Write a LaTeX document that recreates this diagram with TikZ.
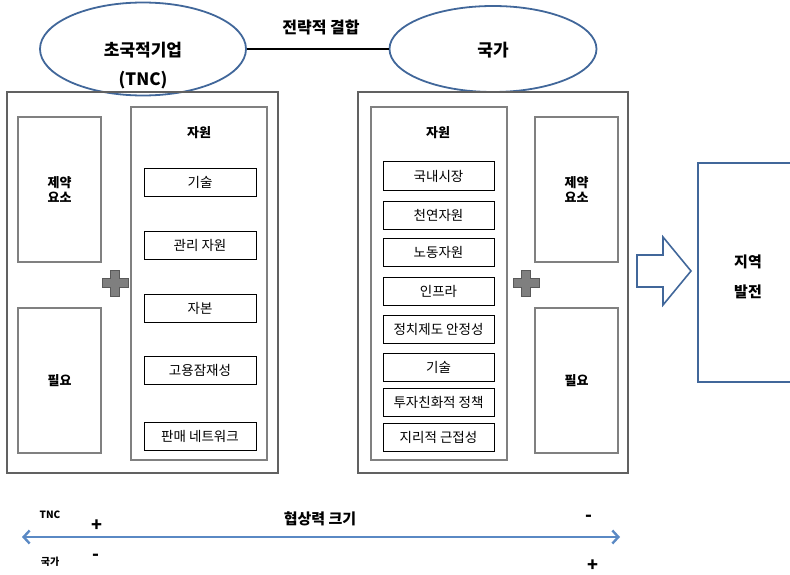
\documentclass[tikz,border=0pt]{standalone}
\usepackage{fontspec}
\setmainfont{Noto Sans CJK KR}
\usetikzlibrary{shapes.geometric,arrows.meta}
\definecolor{partyblue}{HTML}{41679A}
\definecolor{scaleblue}{HTML}{5A89C4}
\definecolor{plusgray}{HTML}{7F7F7F}

\begin{document}
\begin{tikzpicture}[x=1pt,y=-1pt,
  party/.style={ellipse,draw=partyblue,line width=1.8pt,inner sep=0pt},
  panel/.style={draw=black!62,line width=1.3pt,inner sep=0pt},
  frame/.style={draw=black!50,line width=1.1pt,inner sep=0pt},
  item/.style={draw=black,line width=1pt,inner sep=0pt,minimum height=28,
    font=\fontsize{13.5}{14}\selectfont},
  heading/.style={font=\bfseries\fontsize{13}{15.5}\selectfont,align=center},
  bigtitle/.style={font=\bfseries\fontsize{17}{19}\selectfont},
  note/.style={font=\bfseries\fontsize{10}{11}\selectfont},
  sign/.style={font=\bfseries\fontsize{18}{18}\selectfont},
  plusfill/.style={fill=plusgray,draw=black!65,line width=1pt}]

\useasboundingbox (0,0) rectangle (790,575);

% the two partners
\node[party,minimum width=206,minimum height=93] (tnc) at (143,49) {};
\node[party,minimum width=207,minimum height=86] (state) at (493,49) {};
\node[bigtitle] (tncname) at (143,50) {초국적기업};
\node[bigtitle] (tncabbr) at (143,80) {(TNC)};
\node[bigtitle] (statename) at (493,50) {국가};
\draw[line width=1.8pt] (tnc.east) -- (state.west);
\node[bigtitle,font=\bfseries\fontsize{16}{18}\selectfont] (link) at (321,27) {전략적 결합};

% TNC side
\node[panel,minimum width=271,minimum height=381] (tncbox) at (142.5,282.5) {};
\node[frame,minimum width=83,minimum height=145,heading] (tnclimit) at (59.5,189.5) {제약\\요소};
\node[frame,minimum width=83,minimum height=145,heading] (tncneed) at (59.5,380.5) {필요};
\node[frame,minimum width=136,minimum height=353] (tncres) at (199,283.5) {};
\node[heading] (tncrestitle) at (199,133) {자원};
\foreach \y/\txt [count=\i] in {182.5/기술,245.5/관리 자원,308/자본,%
    370.5/고용잠재성,436.5/판매 네트워크}{% one box per resource
  \node[item,minimum width=112] (tncitem\i) at (200,\y) {\txt};}

% state side
\node[panel,minimum width=270,minimum height=381] (statebox) at (493,282.5) {};
\node[frame,minimum width=136,minimum height=353] (stateres) at (439,283.5) {};
\node[heading] (staterestitle) at (438,133) {자원};
\foreach \y/\txt [count=\i] in {176/국내시장,215/천연자원,252.5/노동자원,291/인프라,%
    329/정치제도 안정성,367/기술,402.5/투자친화적 정책,437.5/지리적 근접성}{%
  \node[item,minimum width=111] (stateitem\i) at (438.5,\y) {\txt};}
\node[frame,minimum width=83,minimum height=145,heading] (statelimit) at (576.5,189.5) {제약\\요소};
\node[frame,minimum width=83,minimum height=145,heading] (stateneed) at (576.5,380.5) {필요};

% plus signs
\foreach \cx in {115,526}{%
  \draw[plusfill] (\cx-4.5,270) -- (\cx+4.5,270) -- (\cx+4.5,278.5) -- (\cx+13,278.5)
    -- (\cx+13,287.5) -- (\cx+4.5,287.5) -- (\cx+4.5,296) -- (\cx-4.5,296)
    -- (\cx-4.5,287.5) -- (\cx-13,287.5) -- (\cx-13,278.5) -- (\cx-4.5,278.5) -- cycle;}

% outcome
\draw[draw=partyblue,line width=1.6pt,line join=miter]
  (637,255) -- (663,255) -- (663,237) -- (691,271) -- (663,305) -- (663,287) -- (637,287) -- cycle;
\node[draw=partyblue,line width=1.8pt,minimum width=110,minimum height=219,inner sep=0pt]
  (region) at (753,272.5) {};
\node[heading,font=\bfseries\fontsize{15}{30}\selectfont] (regiontext) at (748,277) {지역\\발전};

% bargaining power scale
\coordinate (lo) at (22,537);
\coordinate (hi) at (620,537);
\draw[scaleblue,line width=2.4pt,{Straight Barb[length=6pt,width=13pt]}-{Straight Barb[length=6pt,width=13pt]}] (lo) -- (hi);
\node[bigtitle,font=\bfseries\fontsize{15}{17}\selectfont] (power) at (320,519) {협상력 크기};
\node[note] (tnclabel) at (50,515) {TNC};
\node[note] (statelabel) at (50,562) {국가};
\node[sign] (tncplus) at (97,526) {+};
\node[sign] (tncminus) at (589,518) {-};
\node[sign] (stateminus) at (96,557) {-};
\node[sign] (stateplus) at (593,566) {+};

\end{tikzpicture}
\end{document}
